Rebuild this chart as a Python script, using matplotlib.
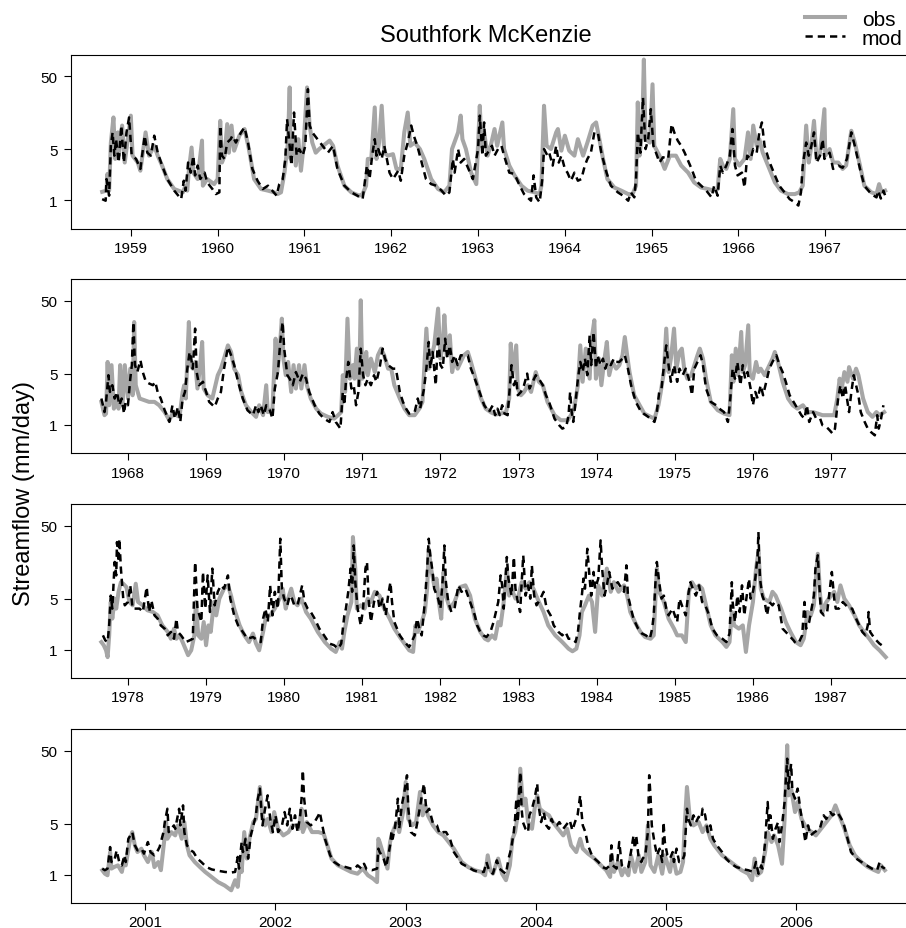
import matplotlib
matplotlib.use('Agg')
import matplotlib.pyplot as plt
from matplotlib.ticker import FixedLocator, NullLocator, FixedFormatter
from matplotlib.lines import Line2D

plt.rcParams['font.family'] = ['Liberation Sans', 'DejaVu Sans']

# periods shown in each panel, decimal years (Sep 1 to Aug 31)
periods = [(1958.667, 1967.667), (1967.667, 1977.667),
           (1977.667, 1987.667), (2000.667, 2006.667)]

# streamflow (mm/day) as (decimal year, value)
obs_1959_1967 = [
    (1958.67, 1.31), (1958.72, 1.36), (1958.73, 2.3), (1958.75, 1.36), (1958.77, 6.2), (1958.80, 13.7),
    (1958.82, 3.7), (1958.85, 8.55), (1958.86, 4.1), (1958.90, 10.6), (1958.93, 3.3), (1959.00, 14.5),
    (1959.02, 4.1), (1959.08, 3.3), (1959.11, 2.55), (1959.17, 8.55), (1959.21, 4.1), (1959.27, 5.6),
    (1959.31, 4.1), (1959.36, 3.0), (1959.42, 1.96), (1959.50, 1.43), (1959.60, 1.29), (1959.63, 1.59),
    (1959.65, 1.36), (1959.67, 2.7), (1959.70, 5.3), (1959.72, 2.4), (1959.77, 1.96), (1959.82, 6.6),
    (1959.83, 1.59), (1959.88, 1.96), (1959.96, 1.67), (1960.00, 1.96), (1960.03, 12.3), (1960.05, 3.3),
    (1960.08, 4.1), (1960.11, 11.1), (1960.13, 4.5), (1960.16, 10.6), (1960.19, 4.8), (1960.25, 7.7),
    (1960.31, 9.5), (1960.36, 5.05), (1960.42, 1.96), (1960.50, 1.43), (1960.58, 1.36), (1960.65, 1.29),
    (1960.69, 1.22), (1960.73, 1.29), (1960.77, 2.4), (1960.81, 6.2), (1960.83, 35.3), (1960.84, 3.7),
    (1960.88, 6.9), (1960.90, 3.0), (1960.93, 6.9), (1960.96, 2.55), (1960.99, 5.6), (1961.03, 35.3),
    (1961.06, 10.6), (1961.09, 6.2), (1961.13, 4.5), (1961.17, 5.05), (1961.29, 6.6), (1961.33, 5.6),
    (1961.38, 3.0), (1961.46, 1.59), (1961.54, 1.29), (1961.63, 1.16), (1961.67, 1.22), (1961.71, 1.59),
    (1961.73, 3.7), (1961.77, 3.7), (1961.81, 18.8), (1961.83, 3.7), (1961.86, 6.2), (1961.89, 19.8),
    (1961.92, 4.5), (1961.96, 4.1), (1962.02, 4.3), (1962.06, 2.7), (1962.11, 2.7), (1962.15, 8.55),
    (1962.19, 16.0), (1962.22, 5.6), (1962.27, 6.2), (1962.33, 5.05), (1962.38, 3.7), (1962.46, 1.96),
    (1962.54, 1.43), (1962.61, 1.29), (1962.67, 1.59), (1962.70, 5.05), (1962.77, 8.55), (1962.80, 14.5),
    (1962.82, 6.9), (1962.86, 5.05), (1962.92, 2.4), (1962.98, 1.67), (1963.02, 19.8), (1963.04, 5.6),
    (1963.07, 8.55), (1963.11, 4.1), (1963.15, 5.9), (1963.19, 9.5), (1963.22, 5.6), (1963.28, 11.7),
    (1963.30, 5.05), (1963.36, 3.0), (1963.42, 2.2), (1963.50, 1.59), (1963.57, 1.36), (1963.65, 1.29),
    (1963.71, 1.22), (1963.73, 1.59), (1963.76, 19.8), (1963.79, 5.6), (1963.84, 5.05), (1963.90, 8.55),
    (1963.92, 9.5), (1963.96, 4.8), (1964.00, 7.7), (1964.05, 4.8), (1964.11, 4.1), (1964.15, 6.9),
    (1964.21, 4.1), (1964.26, 6.2), (1964.32, 10.6), (1964.36, 11.7), (1964.39, 7.7), (1964.44, 3.7),
    (1964.49, 1.96), (1964.57, 1.5), (1964.65, 1.36), (1964.73, 1.22), (1964.78, 1.22), (1964.82, 1.59),
    (1964.84, 22.0), (1964.86, 4.1), (1964.89, 8.55), (1964.91, 85.0), (1964.93, 6.9), (1964.98, 6.2),
    (1965.01, 39.0), (1965.03, 5.6), (1965.09, 4.1), (1965.15, 2.7), (1965.21, 4.1), (1965.28, 4.1),
    (1965.34, 3.0), (1965.42, 2.4), (1965.49, 1.76), (1965.57, 1.5), (1965.65, 1.43), (1965.72, 1.36),
    (1965.76, 1.43), (1965.79, 3.7), (1965.82, 3.0), (1965.86, 2.7), (1965.90, 3.7), (1965.94, 17.8),
    (1965.96, 3.7), (1966.01, 3.0), (1966.07, 3.7), (1966.11, 8.55), (1966.14, 3.7), (1966.17, 10.6),
    (1966.21, 5.6), (1966.24, 6.9), (1966.28, 4.5), (1966.34, 3.0), (1966.42, 1.76), (1966.49, 1.36),
    (1966.57, 1.22), (1966.65, 1.22), (1966.70, 1.29), (1966.74, 1.59), (1966.78, 10.6), (1966.81, 3.3),
    (1966.84, 5.6), (1966.87, 12.3), (1966.90, 3.7), (1966.94, 4.5), (1966.99, 17.8), (1967.00, 4.1),
    (1967.05, 5.05), (1967.09, 3.3), (1967.15, 3.3), (1967.20, 2.7), (1967.24, 3.0), (1967.30, 9.0),
    (1967.34, 6.2), (1967.40, 3.0), (1967.45, 1.59), (1967.53, 1.29), (1967.59, 1.22), (1967.62, 1.67),
    (1967.65, 1.29), (1967.69, 1.36)]

mod_1959_1967 = [
    (1958.67, 1.04), (1958.71, 0.99), (1958.72, 1.96), (1958.75, 1.16), (1958.77, 5.6), (1958.79, 8.55),
    (1958.81, 4.1), (1958.83, 6.9), (1958.86, 3.3), (1958.89, 10.6), (1958.92, 3.3), (1958.95, 8.55),
    (1958.98, 13.7), (1959.01, 4.1), (1959.06, 3.7), (1959.11, 2.7), (1959.16, 7.7), (1959.19, 4.5),
    (1959.23, 4.1), (1959.27, 7.7), (1959.31, 4.5), (1959.36, 3.0), (1959.42, 1.96), (1959.50, 1.36),
    (1959.58, 1.04), (1959.61, 1.86), (1959.63, 1.36), (1959.66, 3.3), (1959.69, 2.4), (1959.72, 4.1),
    (1959.74, 2.2), (1959.77, 3.0), (1959.80, 1.96), (1959.85, 2.4), (1959.88, 1.76), (1959.94, 1.43),
    (1959.98, 1.22), (1960.02, 1.29), (1960.03, 10.6), (1960.05, 4.1), (1960.08, 3.7), (1960.11, 6.2),
    (1960.15, 6.9), (1960.17, 7.7), (1960.21, 6.2), (1960.27, 8.55), (1960.31, 10.0), (1960.35, 6.2),
    (1960.40, 2.7), (1960.46, 1.86), (1960.52, 1.43), (1960.58, 1.59), (1960.63, 1.36), (1960.68, 1.16),
    (1960.71, 1.67), (1960.75, 1.96), (1960.78, 3.7), (1960.80, 13.0), (1960.83, 5.6), (1960.85, 3.0),
    (1960.88, 16.0), (1960.91, 4.1), (1960.94, 5.05), (1960.98, 4.1), (1961.01, 5.6), (1961.04, 33.4),
    (1961.06, 10.6), (1961.09, 8.55), (1961.15, 6.9), (1961.21, 5.6), (1961.27, 4.5), (1961.33, 5.6),
    (1961.38, 2.7), (1961.46, 1.59), (1961.54, 1.29), (1961.61, 1.16), (1961.67, 1.04), (1961.69, 1.59),
    (1961.72, 3.0), (1961.75, 1.96), (1961.78, 4.1), (1961.81, 6.9), (1961.83, 4.1), (1961.85, 5.05),
    (1961.89, 3.7), (1961.92, 5.6), (1961.98, 2.4), (1962.02, 1.96), (1962.08, 2.55), (1962.11, 1.86),
    (1962.15, 4.1), (1962.19, 6.2), (1962.23, 10.6), (1962.26, 7.7), (1962.30, 5.6), (1962.34, 3.7),
    (1962.40, 1.96), (1962.46, 1.67), (1962.52, 1.59), (1962.58, 1.36), (1962.63, 1.16), (1962.67, 1.29),
    (1962.71, 3.7), (1962.73, 2.4), (1962.77, 5.05), (1962.80, 3.3), (1962.84, 3.7), (1962.89, 2.7),
    (1962.94, 1.96), (1963.00, 5.05), (1963.02, 14.5), (1963.05, 4.1), (1963.07, 11.7), (1963.09, 4.1),
    (1963.16, 5.6), (1963.19, 4.1), (1963.23, 5.05), (1963.27, 5.6), (1963.30, 4.1), (1963.36, 2.4),
    (1963.42, 2.3), (1963.48, 1.59), (1963.53, 1.22), (1963.61, 0.99), (1963.64, 2.2), (1963.67, 1.1),
    (1963.71, 0.94), (1963.74, 1.96), (1963.76, 5.05), (1963.80, 4.1), (1963.82, 4.5), (1963.86, 3.0),
    (1963.90, 5.6), (1963.93, 3.3), (1963.96, 4.1), (1964.00, 2.7), (1964.03, 2.4), (1964.07, 1.86),
    (1964.11, 2.4), (1964.15, 1.86), (1964.19, 1.96), (1964.23, 3.0), (1964.26, 3.7), (1964.30, 4.5),
    (1964.34, 8.55), (1964.38, 8.55), (1964.42, 4.5), (1964.48, 2.4), (1964.53, 1.59), (1964.61, 1.29),
    (1964.67, 1.16), (1964.73, 0.99), (1964.76, 1.29), (1964.80, 1.1), (1964.82, 1.96), (1964.84, 8.55),
    (1964.87, 4.5), (1964.90, 25.7), (1964.93, 5.05), (1964.96, 6.9), (1964.99, 17.8), (1965.02, 5.6),
    (1965.05, 4.5), (1965.09, 3.3), (1965.13, 3.9), (1965.19, 3.7), (1965.23, 11.1), (1965.26, 8.55),
    (1965.30, 6.6), (1965.34, 5.6), (1965.38, 4.5), (1965.42, 3.5), (1965.46, 2.7), (1965.51, 1.86),
    (1965.57, 1.59), (1965.63, 1.36), (1965.69, 1.1), (1965.72, 1.59), (1965.76, 1.16), (1965.79, 3.0),
    (1965.82, 2.4), (1965.86, 3.0), (1965.90, 4.1), (1965.93, 9.5), (1965.96, 3.0), (1965.99, 2.2),
    (1966.04, 2.4), (1966.07, 1.5), (1966.10, 4.1), (1966.14, 3.7), (1966.17, 5.05), (1966.21, 4.5),
    (1966.24, 8.55), (1966.27, 11.7), (1966.30, 5.6), (1966.36, 3.3), (1966.42, 2.2), (1966.47, 1.59),
    (1966.53, 1.29), (1966.59, 1.04), (1966.65, 0.94), (1966.69, 0.85), (1966.72, 1.29), (1966.74, 3.0),
    (1966.78, 6.2), (1966.81, 4.1), (1966.84, 5.6), (1966.87, 8.55), (1966.90, 3.3), (1966.94, 4.1),
    (1966.97, 6.9), (1966.99, 3.7), (1967.05, 4.5), (1967.09, 2.7), (1967.15, 3.0), (1967.20, 2.8),
    (1967.25, 3.7), (1967.30, 8.55), (1967.34, 5.6), (1967.40, 2.7), (1967.45, 1.59), (1967.53, 1.22),
    (1967.59, 1.1), (1967.61, 1.36), (1967.64, 1.06), (1967.67, 1.36), (1967.69, 1.16)]

obs_1968_1977 = [
    (1967.66, 2.07), (1967.70, 1.36), (1967.72, 1.43), (1967.74, 7.3), (1967.76, 1.86), (1967.79, 6.6),
    (1967.82, 1.67), (1967.85, 2.3), (1967.88, 1.67), (1967.90, 6.6), (1967.93, 1.86), (1967.96, 6.6),
    (1968.00, 2.3), (1968.03, 5.9), (1968.06, 2.55), (1968.08, 25.7), (1968.10, 3.5), (1968.15, 2.3),
    (1968.21, 2.18), (1968.27, 2.07), (1968.34, 2.07), (1968.40, 1.86), (1968.47, 1.5), (1968.53, 1.16),
    (1968.57, 1.43), (1968.62, 1.36), (1968.66, 1.29), (1968.70, 2.83), (1968.72, 3.5), (1968.74, 2.3),
    (1968.78, 25.7), (1968.80, 6.6), (1968.83, 5.9), (1968.86, 7.3), (1968.89, 3.15), (1968.92, 5.9),
    (1968.95, 13.7), (1968.97, 3.15), (1969.02, 2.55), (1969.08, 2.3), (1969.15, 4.8), (1969.19, 5.9),
    (1969.23, 8.1), (1969.28, 12.3), (1969.32, 10.0), (1969.36, 5.9), (1969.41, 4.8), (1969.45, 2.83),
    (1969.51, 1.86), (1969.58, 1.5), (1969.64, 1.29), (1969.68, 1.86), (1969.73, 1.36), (1969.77, 3.5),
    (1969.79, 1.5), (1969.85, 1.67), (1969.89, 15.2), (1969.91, 5.3), (1969.94, 10.0), (1969.97, 28.6),
    (1969.99, 8.1), (1970.02, 4.8), (1970.05, 7.3), (1970.09, 2.83), (1970.12, 6.6), (1970.15, 3.15),
    (1970.19, 6.6), (1970.22, 3.15), (1970.26, 6.6), (1970.29, 3.5), (1970.34, 2.3), (1970.41, 1.67),
    (1970.47, 1.43), (1970.56, 1.29), (1970.64, 1.22), (1970.69, 1.36), (1970.73, 1.5), (1970.75, 4.8),
    (1970.78, 2.83), (1970.81, 28.6), (1970.84, 4.3), (1970.88, 6.6), (1970.90, 4.3), (1970.93, 11.1),
    (1970.96, 3.5), (1970.98, 51.0), (1971.00, 4.3), (1971.03, 5.9), (1971.05, 10.0), (1971.07, 4.8),
    (1971.11, 8.1), (1971.16, 5.3), (1971.20, 9.0), (1971.24, 11.1), (1971.28, 9.0), (1971.33, 5.9),
    (1971.37, 5.9), (1971.41, 3.5), (1971.48, 2.3), (1971.54, 1.67), (1971.60, 1.36), (1971.67, 1.36),
    (1971.73, 1.67), (1971.77, 2.07), (1971.82, 20.9), (1971.85, 5.9), (1971.88, 8.1), (1971.92, 12.3),
    (1971.97, 39.3), (1972.00, 8.1), (1972.03, 12.3), (1972.05, 31.8), (1972.08, 9.0), (1972.12, 16.9),
    (1972.15, 5.3), (1972.18, 8.1), (1972.22, 5.9), (1972.26, 7.3), (1972.30, 9.0), (1972.35, 10.0),
    (1972.39, 7.3), (1972.45, 4.3), (1972.52, 2.3), (1972.58, 1.67), (1972.65, 1.48), (1972.71, 1.39),
    (1972.77, 1.43), (1972.84, 1.5), (1972.88, 2.3), (1972.90, 13.0), (1972.92, 4.8), (1972.97, 12.3),
    (1972.99, 3.15), (1973.03, 2.55), (1973.07, 2.83), (1973.12, 3.5), (1973.16, 2.83), (1973.22, 5.3),
    (1973.26, 3.9), (1973.31, 3.5), (1973.37, 2.07), (1973.46, 1.36), (1973.54, 1.16), (1973.63, 1.16),
    (1973.67, 1.36), (1973.71, 1.67), (1973.76, 3.5), (1973.79, 12.3), (1973.82, 3.9), (1973.86, 11.1),
    (1973.91, 4.3), (1973.93, 13.7), (1973.97, 27.2), (1973.99, 4.3), (1974.03, 8.1), (1974.06, 3.5),
    (1974.10, 8.1), (1974.13, 13.7), (1974.16, 4.8), (1974.20, 7.3), (1974.25, 5.9), (1974.29, 6.6),
    (1974.33, 9.0), (1974.36, 16.0), (1974.39, 9.0), (1974.42, 5.3), (1974.48, 2.55), (1974.55, 1.86),
    (1974.61, 1.43), (1974.69, 1.29), (1974.74, 1.22), (1974.79, 1.86), (1974.82, 2.83), (1974.86, 5.3),
    (1974.89, 20.9), (1974.92, 5.3), (1974.95, 8.1), (1974.99, 20.9), (1975.02, 5.9), (1975.06, 10.0),
    (1975.09, 11.1), (1975.12, 5.9), (1975.16, 4.3), (1975.21, 4.8), (1975.25, 6.6), (1975.29, 9.0),
    (1975.32, 11.1), (1975.36, 8.1), (1975.40, 4.3), (1975.46, 2.07), (1975.55, 1.59), (1975.63, 1.43),
    (1975.70, 1.36), (1975.73, 9.0), (1975.75, 3.9), (1975.78, 11.1), (1975.81, 4.8), (1975.85, 18.8),
    (1975.87, 5.3), (1975.90, 6.6), (1975.94, 23.2), (1975.96, 4.8), (1976.00, 4.3), (1976.04, 7.3),
    (1976.07, 5.3), (1976.10, 5.9), (1976.15, 4.8), (1976.21, 6.6), (1976.25, 8.1), (1976.28, 10.0),
    (1976.32, 7.3), (1976.38, 3.9), (1976.45, 2.3), (1976.51, 1.86), (1976.57, 1.67), (1976.64, 1.86),
    (1976.70, 1.5), (1976.77, 1.5), (1976.83, 1.43), (1976.89, 1.36), (1976.98, 1.36), (1977.04, 1.36),
    (1977.08, 2.3), (1977.11, 4.3), (1977.13, 2.83), (1977.17, 5.3), (1977.21, 3.9), (1977.23, 6.2),
    (1977.28, 4.3), (1977.32, 5.9), (1977.35, 4.8), (1977.41, 2.3), (1977.47, 1.5), (1977.53, 1.29),
    (1977.58, 1.5), (1977.62, 1.36), (1977.68, 1.5)]

mod_1968_1977 = [
    (1967.66, 2.3), (1967.70, 1.5), (1967.72, 2.07), (1967.75, 4.8), (1967.77, 2.83), (1967.80, 3.5),
    (1967.83, 2.3), (1967.86, 2.83), (1967.89, 1.86), (1967.92, 2.3), (1967.95, 1.43), (1967.97, 2.07),
    (1968.00, 1.86), (1968.03, 4.3), (1968.05, 6.6), (1968.07, 25.7), (1968.09, 6.6), (1968.12, 5.3),
    (1968.16, 7.7), (1968.19, 5.3), (1968.23, 3.9), (1968.27, 3.7), (1968.32, 3.5), (1968.35, 3.9),
    (1968.38, 2.83), (1968.42, 2.3), (1968.47, 1.59), (1968.53, 1.1), (1968.57, 1.86), (1968.60, 1.22),
    (1968.64, 1.76), (1968.67, 1.1), (1968.70, 2.3), (1968.73, 2.83), (1968.76, 5.9), (1968.79, 10.0),
    (1968.81, 8.1), (1968.83, 5.9), (1968.86, 20.9), (1968.88, 5.3), (1968.91, 3.5), (1968.96, 3.9),
    (1969.00, 2.83), (1969.04, 2.07), (1969.11, 1.76), (1969.15, 2.3), (1969.19, 2.83), (1969.23, 5.9),
    (1969.28, 11.7), (1969.32, 9.0), (1969.36, 6.6), (1969.41, 3.9), (1969.47, 2.3), (1969.53, 1.59),
    (1969.60, 1.36), (1969.64, 1.86), (1969.67, 1.5), (1969.70, 1.86), (1969.74, 1.36), (1969.77, 1.86),
    (1969.81, 1.67), (1969.85, 1.22), (1969.88, 3.15), (1969.92, 5.3), (1969.95, 13.7), (1969.98, 25.7),
    (1970.00, 11.1), (1970.04, 4.8), (1970.07, 4.3), (1970.11, 3.5), (1970.15, 5.3), (1970.20, 3.9),
    (1970.24, 5.05), (1970.28, 4.3), (1970.32, 2.83), (1970.39, 1.86), (1970.45, 1.43), (1970.51, 1.22),
    (1970.58, 1.1), (1970.62, 1.5), (1970.66, 1.1), (1970.69, 0.99), (1970.72, 0.89), (1970.75, 2.83),
    (1970.77, 1.86), (1970.79, 3.9), (1970.82, 7.3), (1970.86, 3.15), (1970.89, 3.5), (1970.92, 1.86),
    (1970.95, 2.83), (1970.98, 11.1), (1971.01, 4.8), (1971.04, 3.5), (1971.07, 4.3), (1971.11, 3.5),
    (1971.15, 4.8), (1971.18, 3.9), (1971.22, 5.9), (1971.26, 11.1), (1971.29, 8.1), (1971.33, 6.6),
    (1971.39, 5.9), (1971.43, 5.9), (1971.48, 2.83), (1971.52, 2.07), (1971.56, 1.67), (1971.60, 1.43),
    (1971.67, 1.5), (1971.71, 2.3), (1971.74, 1.67), (1971.79, 3.15), (1971.82, 5.9), (1971.85, 13.7),
    (1971.87, 5.9), (1971.90, 10.0), (1971.94, 3.5), (1971.97, 16.9), (1972.00, 6.6), (1972.03, 5.9),
    (1972.06, 15.2), (1972.09, 8.1), (1972.12, 12.3), (1972.15, 7.3), (1972.18, 9.0), (1972.22, 6.6),
    (1972.26, 9.0), (1972.30, 9.0), (1972.35, 9.0), (1972.39, 5.9), (1972.44, 4.3), (1972.50, 2.83),
    (1972.56, 1.86), (1972.62, 1.5), (1972.67, 1.86), (1972.70, 1.36), (1972.73, 1.67), (1972.76, 1.36),
    (1972.79, 1.86), (1972.82, 1.43), (1972.86, 1.36), (1972.89, 3.5), (1972.91, 6.6), (1972.94, 3.5),
    (1972.97, 4.3), (1972.99, 2.55), (1973.03, 2.83), (1973.07, 3.5), (1973.11, 5.05), (1973.14, 3.15),
    (1973.18, 3.9), (1973.22, 4.8), (1973.26, 4.3), (1973.31, 3.5), (1973.35, 2.55), (1973.39, 2.07),
    (1973.46, 1.22), (1973.52, 0.99), (1973.56, 0.89), (1973.61, 0.94), (1973.64, 1.36), (1973.66, 2.83),
    (1973.68, 1.5), (1973.70, 1.1), (1973.73, 2.07), (1973.76, 4.3), (1973.79, 7.3), (1973.82, 5.3),
    (1973.85, 8.1), (1973.88, 4.8), (1973.91, 16.9), (1973.93, 6.6), (1973.96, 18.8), (1973.99, 5.9),
    (1974.01, 9.0), (1974.05, 6.6), (1974.08, 8.1), (1974.11, 5.9), (1974.14, 7.3), (1974.18, 6.6),
    (1974.22, 8.1), (1974.25, 7.3), (1974.29, 7.3), (1974.33, 8.1), (1974.36, 9.0), (1974.40, 5.9),
    (1974.44, 3.5), (1974.50, 2.07), (1974.57, 1.5), (1974.63, 1.36), (1974.69, 1.22), (1974.74, 1.1),
    (1974.77, 1.5), (1974.80, 2.83), (1974.83, 3.15), (1974.87, 8.1), (1974.89, 12.3), (1974.92, 6.6),
    (1974.95, 3.9), (1974.99, 6.6), (1975.03, 3.9), (1975.06, 5.9), (1975.10, 4.8), (1975.14, 5.9),
    (1975.19, 3.9), (1975.22, 2.55), (1975.25, 5.9), (1975.29, 7.3), (1975.33, 9.0), (1975.36, 6.6),
    (1975.40, 3.15), (1975.46, 2.07), (1975.53, 1.86), (1975.57, 1.67), (1975.63, 1.5), (1975.68, 1.1),
    (1975.71, 2.3), (1975.74, 5.9), (1975.77, 4.3), (1975.80, 7.3), (1975.84, 3.5), (1975.87, 6.6),
    (1975.90, 4.3), (1975.93, 5.3), (1975.97, 3.15), (1976.00, 1.86), (1976.03, 2.83), (1976.06, 2.3),
    (1976.10, 3.5), (1976.13, 2.55), (1976.17, 3.9), (1976.21, 5.9), (1976.25, 7.3), (1976.30, 9.0),
    (1976.34, 6.6), (1976.38, 5.3), (1976.42, 3.9), (1976.47, 2.55), (1976.52, 2.07), (1976.57, 1.67),
    (1976.62, 1.36), (1976.66, 1.22), (1976.69, 1.86), (1976.72, 1.1), (1976.77, 1.5), (1976.81, 1.22),
    (1976.86, 1.22), (1976.89, 0.99), (1976.94, 0.94), (1976.98, 0.85), (1977.02, 0.76), (1977.05, 0.89),
    (1977.09, 2.3), (1977.12, 3.5), (1977.15, 2.3), (1977.18, 3.5), (1977.21, 2.07), (1977.23, 1.5),
    (1977.26, 2.83), (1977.29, 4.8), (1977.32, 3.5), (1977.35, 2.55), (1977.38, 1.5), (1977.43, 1.1),
    (1977.47, 0.89), (1977.51, 0.80), (1977.56, 0.72), (1977.59, 1.36), (1977.61, 0.89), (1977.64, 1.22),
    (1977.67, 1.86)]

obs_1978_1987 = [
    (1977.66, 1.27), (1977.69, 1.15), (1977.72, 0.98), (1977.74, 0.79), (1977.76, 1.57), (1977.78, 4.5),
    (1977.80, 2.66), (1977.83, 5.0), (1977.85, 3.65), (1977.88, 6.2), (1977.91, 8.4), (1977.94, 8.0),
    (1977.98, 7.2), (1978.02, 4.5), (1978.06, 4.05), (1978.10, 8.0), (1978.13, 4.5), (1978.19, 4.05),
    (1978.25, 3.46), (1978.32, 3.28), (1978.38, 2.95), (1978.44, 2.15), (1978.51, 1.75), (1978.55, 1.41),
    (1978.59, 1.94), (1978.62, 1.41), (1978.66, 1.57), (1978.70, 1.27), (1978.77, 0.84), (1978.81, 0.98),
    (1978.85, 1.57), (1978.87, 4.5), (1978.90, 1.57), (1978.94, 1.41), (1978.97, 2.39), (1979.00, 1.15),
    (1979.03, 2.15), (1979.06, 1.75), (1979.10, 4.5), (1979.13, 2.95), (1979.17, 5.0), (1979.23, 6.85),
    (1979.28, 7.6), (1979.32, 5.5), (1979.36, 3.65), (1979.43, 2.15), (1979.49, 1.57), (1979.55, 1.27),
    (1979.60, 1.66), (1979.64, 1.21), (1979.68, 0.98), (1979.73, 1.75), (1979.77, 2.95), (1979.82, 2.95),
    (1979.88, 3.65), (1979.92, 4.5), (1979.96, 5.5), (1979.98, 6.85), (1980.02, 3.65), (1980.05, 5.0),
    (1980.09, 6.85), (1980.13, 4.5), (1980.17, 4.05), (1980.22, 5.0), (1980.28, 3.28), (1980.34, 2.66),
    (1980.43, 1.75), (1980.52, 1.27), (1980.60, 1.03), (1980.66, 0.93), (1980.71, 1.27), (1980.74, 1.03),
    (1980.77, 1.75), (1980.81, 2.95), (1980.86, 4.5), (1980.88, 34.9), (1980.91, 12.9), (1980.93, 3.65),
    (1980.98, 4.05), (1981.03, 3.65), (1981.07, 5.0), (1981.11, 4.5), (1981.16, 6.2), (1981.22, 5.5),
    (1981.28, 3.65), (1981.35, 2.66), (1981.41, 1.94), (1981.48, 1.49), (1981.54, 1.21), (1981.60, 0.98),
    (1981.65, 0.93), (1981.68, 2.15), (1981.71, 1.75), (1981.76, 2.39), (1981.80, 3.28), (1981.83, 6.85),
    (1981.85, 24.1), (1981.88, 12.9), (1981.92, 7.6), (1981.95, 9.4), (1981.98, 4.5), (1982.01, 2.66),
    (1982.04, 11.6), (1982.07, 5.5), (1982.12, 3.65), (1982.18, 4.5), (1982.25, 7.2), (1982.32, 7.6),
    (1982.38, 5.5), (1982.44, 2.66), (1982.51, 1.75), (1982.57, 1.41), (1982.61, 1.34), (1982.66, 1.57),
    (1982.70, 1.41), (1982.74, 2.39), (1982.77, 2.15), (1982.81, 4.5), (1982.85, 12.9), (1982.88, 5.5),
    (1982.91, 6.85), (1982.96, 5.0), (1983.00, 5.5), (1983.04, 8.4), (1983.09, 6.85), (1983.14, 8.4),
    (1983.19, 6.85), (1983.26, 4.5), (1983.32, 3.28), (1983.38, 2.15), (1983.47, 1.57), (1983.56, 1.27),
    (1983.64, 1.03), (1983.69, 0.95), (1983.74, 1.03), (1983.78, 1.57), (1983.81, 3.28), (1983.85, 4.05),
    (1983.90, 5.5), (1983.94, 4.5), (1983.98, 1.75), (1984.02, 7.6), (1984.07, 5.5), (1984.13, 12.9),
    (1984.18, 6.2), (1984.22, 8.4), (1984.28, 6.2), (1984.35, 7.6), (1984.39, 5.5), (1984.43, 3.28),
    (1984.50, 2.27), (1984.56, 1.75), (1984.62, 1.49), (1984.69, 1.41), (1984.73, 1.57), (1984.77, 12.9),
    (1984.80, 6.2), (1984.86, 4.5), (1984.92, 2.66), (1984.99, 1.94), (1985.03, 1.57), (1985.09, 1.57),
    (1985.14, 1.27), (1985.18, 6.2), (1985.22, 8.4), (1985.27, 6.85), (1985.31, 7.6), (1985.35, 6.85),
    (1985.39, 4.5), (1985.46, 2.15), (1985.52, 1.57), (1985.61, 1.27), (1985.66, 1.09), (1985.70, 1.27),
    (1985.73, 3.28), (1985.76, 2.15), (1985.82, 1.94), (1985.87, 2.15), (1985.91, 0.93), (1985.95, 2.15),
    (1986.00, 4.5), (1986.04, 12.9), (1986.07, 21.7), (1986.10, 6.85), (1986.14, 5.0), (1986.21, 4.5),
    (1986.25, 6.2), (1986.29, 5.5), (1986.36, 3.65), (1986.42, 2.39), (1986.48, 1.75), (1986.55, 1.27),
    (1986.61, 1.15), (1986.65, 1.41), (1986.70, 3.28), (1986.74, 2.95), (1986.78, 4.05), (1986.83, 20.6),
    (1986.86, 5.5), (1986.89, 3.28), (1986.94, 4.5), (1987.00, 5.5), (1987.04, 6.2), (1987.08, 4.5),
    (1987.12, 7.6), (1987.17, 5.0), (1987.23, 4.05), (1987.30, 2.95), (1987.36, 2.15), (1987.42, 1.75),
    (1987.49, 1.41), (1987.55, 1.15), (1987.62, 0.98), (1987.70, 0.79)]

mod_1978_1987 = [
    (1977.68, 1.57), (1977.71, 1.34), (1977.74, 1.27), (1977.76, 2.15), (1977.78, 5.5), (1977.80, 3.65),
    (1977.83, 15.9), (1977.85, 10.4), (1977.86, 29.8), (1977.88, 15.9), (1977.89, 33.1), (1977.91, 12.9),
    (1977.94, 5.0), (1977.96, 4.05), (1978.00, 4.5), (1978.03, 7.6), (1978.06, 3.65), (1978.10, 3.65),
    (1978.15, 3.65), (1978.19, 3.28), (1978.24, 7.2), (1978.27, 3.28), (1978.30, 4.75), (1978.34, 2.95),
    (1978.38, 2.66), (1978.42, 2.15), (1978.47, 1.94), (1978.51, 1.57), (1978.55, 1.75), (1978.59, 1.41),
    (1978.62, 2.66), (1978.64, 1.75), (1978.68, 1.57), (1978.74, 1.27), (1978.79, 1.34), (1978.83, 1.41),
    (1978.85, 6.85), (1978.86, 15.9), (1978.89, 3.65), (1978.94, 2.39), (1978.96, 11.6), (1978.99, 3.65),
    (1979.02, 10.4), (1979.05, 3.28), (1979.08, 12.9), (1979.11, 4.05), (1979.15, 6.2), (1979.19, 7.6),
    (1979.23, 6.85), (1979.28, 10.4), (1979.31, 5.0), (1979.36, 2.95), (1979.41, 2.15), (1979.47, 1.75),
    (1979.53, 1.41), (1979.60, 1.49), (1979.66, 1.34), (1979.70, 1.27), (1979.73, 2.66), (1979.76, 3.65),
    (1979.79, 2.39), (1979.82, 7.6), (1979.85, 2.95), (1979.88, 6.2), (1979.92, 3.65), (1979.95, 33.1),
    (1979.97, 6.85), (1980.00, 5.0), (1980.04, 4.05), (1980.07, 5.5), (1980.10, 5.0), (1980.13, 4.05),
    (1980.17, 4.05), (1980.20, 5.5), (1980.23, 7.6), (1980.26, 4.5), (1980.30, 3.65), (1980.34, 3.28),
    (1980.39, 2.66), (1980.45, 1.94), (1980.51, 1.57), (1980.58, 1.21), (1980.64, 1.15), (1980.69, 1.03),
    (1980.73, 1.21), (1980.77, 2.95), (1980.79, 3.65), (1980.82, 6.2), (1980.85, 12.9), (1980.87, 6.2),
    (1980.89, 26.8), (1980.91, 8.4), (1980.94, 3.65), (1980.98, 2.15), (1981.01, 3.65), (1981.04, 12.9),
    (1981.06, 15.9), (1981.08, 5.0), (1981.11, 2.39), (1981.15, 4.5), (1981.19, 6.2), (1981.22, 3.65),
    (1981.26, 5.0), (1981.30, 2.95), (1981.33, 5.5), (1981.36, 8.4), (1981.38, 4.5), (1981.41, 2.39),
    (1981.48, 1.57), (1981.54, 1.27), (1981.60, 1.09), (1981.63, 1.27), (1981.67, 1.57), (1981.70, 2.66),
    (1981.73, 1.94), (1981.76, 1.57), (1981.80, 4.5), (1981.83, 12.9), (1981.85, 33.1), (1981.87, 19.6),
    (1981.90, 11.6), (1981.92, 6.85), (1981.97, 5.0), (1982.00, 3.65), (1982.03, 9.4), (1982.05, 26.8),
    (1982.07, 8.4), (1982.10, 4.5), (1982.14, 3.28), (1982.18, 3.65), (1982.23, 7.6), (1982.27, 6.2),
    (1982.32, 6.85), (1982.38, 4.5), (1982.44, 2.95), (1982.47, 2.15), (1982.51, 1.75), (1982.55, 1.57),
    (1982.59, 1.49), (1982.64, 1.75), (1982.68, 2.39), (1982.71, 3.28), (1982.74, 4.5), (1982.77, 10.4),
    (1982.79, 7.6), (1982.81, 3.65), (1982.85, 18.6), (1982.87, 9.4), (1982.91, 5.5), (1982.94, 18.6),
    (1982.96, 6.85), (1982.99, 4.5), (1983.02, 3.28), (1983.04, 8.4), (1983.06, 19.6), (1983.09, 5.5),
    (1983.12, 7.6), (1983.15, 5.0), (1983.17, 14.3), (1983.20, 5.5), (1983.23, 4.05), (1983.28, 5.0),
    (1983.32, 6.2), (1983.36, 3.65), (1983.41, 2.95), (1983.45, 2.15), (1983.51, 1.75), (1983.56, 1.57),
    (1983.60, 1.75), (1983.64, 1.41), (1983.69, 1.41), (1983.73, 1.27), (1983.76, 1.75), (1983.79, 3.65),
    (1983.81, 5.5), (1983.83, 9.4), (1983.85, 6.85), (1983.88, 24.1), (1983.91, 9.4), (1983.93, 5.5),
    (1983.96, 11.6), (1983.98, 6.85), (1984.02, 9.4), (1984.05, 31.4), (1984.07, 12.9), (1984.10, 5.5),
    (1984.13, 7.6), (1984.16, 11.6), (1984.20, 6.85), (1984.23, 7.6), (1984.27, 8.4), (1984.32, 6.85),
    (1984.35, 6.2), (1984.38, 14.3), (1984.40, 5.5), (1984.43, 4.05), (1984.47, 2.66), (1984.53, 1.94),
    (1984.58, 1.66), (1984.63, 1.57), (1984.68, 1.41), (1984.71, 1.94), (1984.73, 2.95), (1984.75, 7.6),
    (1984.77, 15.9), (1984.80, 8.4), (1984.83, 5.0), (1984.86, 5.5), (1984.89, 3.65), (1984.92, 2.95),
    (1984.97, 3.65), (1985.00, 2.95), (1985.03, 2.39), (1985.06, 5.0), (1985.09, 4.05), (1985.14, 2.95),
    (1985.17, 5.5), (1985.20, 8.4), (1985.23, 6.85), (1985.27, 5.5), (1985.31, 7.6), (1985.35, 4.5),
    (1985.39, 4.05), (1985.44, 2.95), (1985.48, 1.94), (1985.54, 1.57), (1985.61, 1.41), (1985.66, 1.27),
    (1985.70, 1.66), (1985.73, 8.4), (1985.74, 4.5), (1985.77, 2.39), (1985.80, 5.5), (1985.83, 3.28),
    (1985.86, 7.6), (1985.89, 2.95), (1985.91, 4.5), (1985.95, 9.4), (1985.97, 5.0), (1986.00, 6.2),
    (1986.03, 9.4), (1986.06, 19.6), (1986.07, 40.9), (1986.09, 9.4), (1986.12, 5.5), (1986.15, 4.5),
    (1986.18, 2.95), (1986.21, 4.5), (1986.25, 4.05), (1986.28, 4.5), (1986.33, 4.05), (1986.38, 1.94),
    (1986.42, 1.75), (1986.46, 1.57), (1986.52, 1.34), (1986.55, 1.21), (1986.59, 1.27), (1986.63, 1.57),
    (1986.66, 4.5), (1986.68, 1.94), (1986.72, 2.39), (1986.75, 3.65), (1986.78, 5.5), (1986.80, 12.9),
    (1986.83, 19.6), (1986.85, 7.6), (1986.87, 3.28), (1986.91, 2.95), (1986.95, 3.28), (1986.98, 6.2),
    (1987.01, 11.6), (1987.04, 5.0), (1987.06, 3.65), (1987.10, 3.65), (1987.15, 4.5), (1987.19, 4.05),
    (1987.23, 3.65), (1987.27, 3.65), (1987.32, 2.66), (1987.36, 2.15), (1987.40, 1.75), (1987.44, 1.57),
    (1987.47, 2.15), (1987.48, 3.28), (1987.50, 1.75), (1987.53, 1.57), (1987.56, 1.41), (1987.62, 1.21),
    (1987.68, 1.09)]

obs_2001_2006 = [
    (2000.67, 1.15), (2000.69, 1.03), (2000.71, 0.98), (2000.73, 2.04), (2000.74, 1.21), (2000.76, 1.27),
    (2000.79, 1.34), (2000.82, 1.09), (2000.84, 1.66), (2000.85, 1.34), (2000.88, 2.8), (2000.90, 3.83),
    (2000.92, 2.52), (2000.94, 2.04), (2000.97, 2.27), (2000.99, 1.84), (2001.02, 1.49), (2001.05, 2.04),
    (2001.07, 1.27), (2001.10, 1.49), (2001.12, 1.15), (2001.15, 3.45), (2001.16, 5.25), (2001.17, 3.1),
    (2001.20, 3.83), (2001.23, 3.45), (2001.25, 4.73), (2001.28, 3.1), (2001.30, 5.25), (2001.32, 2.52),
    (2001.34, 1.84), (2001.38, 1.49), (2001.42, 1.27), (2001.46, 1.09), (2001.51, 0.93), (2001.56, 0.79),
    (2001.61, 0.71), (2001.66, 0.61), (2001.69, 0.84), (2001.71, 0.68), (2001.73, 1.49), (2001.74, 1.09),
    (2001.76, 3.83), (2001.78, 1.66), (2001.80, 3.1), (2001.83, 5.25), (2001.85, 5.8), (2001.88, 15.9),
    (2001.90, 6.5), (2001.92, 4.73), (2001.94, 5.8), (2001.97, 3.83), (2001.99, 7.2), (2002.02, 4.25),
    (2002.06, 3.45), (2002.10, 3.83), (2002.13, 4.73), (2002.16, 4.73), (2002.18, 4.25), (2002.20, 8.0),
    (2002.21, 3.83), (2002.24, 5.25), (2002.28, 3.83), (2002.33, 3.83), (2002.37, 3.64), (2002.39, 2.8),
    (2002.43, 1.66), (2002.48, 1.34), (2002.53, 1.21), (2002.58, 1.09), (2002.63, 1.03), (2002.67, 1.21),
    (2002.71, 0.98), (2002.75, 0.88), (2002.78, 0.79), (2002.79, 3.1), (2002.80, 2.8), (2002.83, 1.84),
    (2002.86, 1.21), (2002.88, 2.8), (2002.90, 3.83), (2002.93, 5.25), (2002.95, 3.83), (2002.98, 7.2),
    (2003.00, 18.6), (2003.02, 5.8), (2003.05, 4.73), (2003.08, 5.25), (2003.11, 13.6), (2003.13, 6.5),
    (2003.15, 8.9), (2003.17, 6.5), (2003.21, 4.73), (2003.25, 3.83), (2003.29, 3.45), (2003.33, 2.8),
    (2003.37, 2.27), (2003.43, 1.49), (2003.48, 1.27), (2003.53, 1.15), (2003.58, 1.09), (2003.61, 0.98),
    (2003.63, 1.84), (2003.65, 1.15), (2003.67, 1.03), (2003.71, 1.66), (2003.74, 1.03), (2003.77, 0.84),
    (2003.80, 1.34), (2003.82, 3.1), (2003.84, 3.83), (2003.86, 6.5), (2003.88, 28.3), (2003.90, 8.9),
    (2003.92, 11.0), (2003.94, 5.25), (2003.97, 4.25), (2003.99, 8.0), (2004.01, 12.2), (2004.03, 8.0),
    (2004.06, 7.2), (2004.10, 6.5), (2004.13, 5.25), (2004.17, 4.25), (2004.21, 3.45), (2004.24, 4.25),
    (2004.27, 2.52), (2004.31, 2.04), (2004.34, 3.1), (2004.36, 2.27), (2004.40, 1.94), (2004.45, 1.66),
    (2004.50, 1.34), (2004.54, 1.15), (2004.57, 0.93), (2004.58, 1.84), (2004.60, 1.09), (2004.63, 1.49),
    (2004.66, 0.98), (2004.68, 1.21), (2004.71, 0.98), (2004.73, 1.84), (2004.76, 1.09), (2004.79, 1.84),
    (2004.81, 1.09), (2004.84, 1.49), (2004.86, 4.73), (2004.88, 1.34), (2004.91, 1.09), (2004.94, 1.84),
    (2004.97, 1.03), (2004.99, 1.84), (2005.03, 1.09), (2005.05, 1.84), (2005.08, 1.03), (2005.11, 1.09),
    (2005.13, 1.49), (2005.14, 3.83), (2005.16, 15.9), (2005.18, 6.5), (2005.21, 4.73), (2005.25, 5.25),
    (2005.28, 3.83), (2005.31, 4.73), (2005.34, 3.1), (2005.37, 2.52), (2005.43, 1.84), (2005.48, 1.57),
    (2005.53, 1.34), (2005.58, 1.15), (2005.63, 1.03), (2005.66, 0.84), (2005.68, 1.66), (2005.70, 0.98),
    (2005.73, 1.09), (2005.76, 2.04), (2005.78, 3.83), (2005.81, 2.8), (2005.83, 3.45), (2005.86, 2.52),
    (2005.89, 1.41), (2005.91, 5.8), (2005.93, 59.3), (2005.94, 12.2), (2005.96, 15.1), (2005.99, 7.2),
    (2006.01, 9.9), (2006.04, 5.8), (2006.08, 4.25), (2006.12, 3.83), (2006.15, 3.45), (2006.19, 4.25),
    (2006.23, 5.25), (2006.27, 6.5), (2006.30, 8.9), (2006.33, 6.5), (2006.37, 4.25), (2006.41, 2.52),
    (2006.45, 1.84), (2006.50, 1.49), (2006.55, 1.27), (2006.60, 1.15), (2006.63, 1.09), (2006.65, 1.34),
    (2006.68, 1.15)]

mod_2001_2006 = [
    (2000.67, 1.21), (2000.69, 1.15), (2000.71, 1.21), (2000.73, 2.39), (2000.74, 1.49), (2000.76, 1.49),
    (2000.78, 2.15), (2000.80, 1.49), (2000.82, 1.34), (2000.84, 1.84), (2000.85, 1.49), (2000.87, 3.1),
    (2000.90, 3.83), (2000.92, 2.52), (2000.94, 2.15), (2000.97, 2.27), (2000.99, 1.94), (2001.02, 2.8),
    (2001.04, 2.04), (2001.07, 1.84), (2001.09, 2.04), (2001.11, 2.39), (2001.14, 3.83), (2001.15, 5.25),
    (2001.17, 8.0), (2001.18, 3.83), (2001.22, 4.73), (2001.23, 4.25), (2001.25, 6.5), (2001.26, 8.0),
    (2001.27, 4.73), (2001.29, 8.9), (2001.30, 3.83), (2001.32, 2.52), (2001.35, 2.15), (2001.37, 2.04),
    (2001.40, 1.66), (2001.43, 1.49), (2001.47, 1.27), (2001.51, 1.18), (2001.56, 1.13), (2001.61, 1.09),
    (2001.66, 1.07), (2001.69, 1.09), (2001.71, 1.75), (2001.72, 1.21), (2001.74, 2.8), (2001.75, 2.04),
    (2001.77, 3.1), (2001.79, 1.66), (2001.81, 3.45), (2001.83, 4.73), (2001.85, 6.5), (2001.86, 9.9),
    (2001.88, 15.1), (2001.90, 4.73), (2001.92, 8.0), (2001.94, 12.2), (2001.96, 5.8), (2001.98, 3.83),
    (2002.00, 6.5), (2002.02, 3.83), (2002.05, 4.73), (2002.07, 7.2), (2002.09, 4.73), (2002.11, 8.0),
    (2002.13, 4.25), (2002.15, 6.5), (2002.17, 3.83), (2002.19, 6.5), (2002.20, 11.0), (2002.21, 27.0),
    (2002.22, 11.0), (2002.24, 5.25), (2002.27, 4.73), (2002.30, 5.25), (2002.33, 6.5), (2002.34, 7.2),
    (2002.36, 4.73), (2002.38, 3.1), (2002.42, 1.84), (2002.45, 1.49), (2002.49, 1.34), (2002.54, 1.27),
    (2002.58, 1.21), (2002.61, 1.21), (2002.63, 1.34), (2002.66, 1.21), (2002.68, 1.41), (2002.70, 1.18),
    (2002.74, 1.15), (2002.78, 1.21), (2002.79, 2.27), (2002.80, 2.04), (2002.83, 1.66), (2002.85, 1.27),
    (2002.88, 2.52), (2002.89, 3.83), (2002.90, 3.1), (2002.92, 4.73), (2002.94, 11.0), (2002.95, 4.25),
    (2002.97, 8.9), (2002.99, 13.6), (2003.01, 23.0), (2003.02, 8.0), (2003.04, 3.83), (2003.07, 3.45),
    (2003.09, 5.25), (2003.12, 11.0), (2003.14, 17.7), (2003.16, 7.2), (2003.18, 8.0), (2003.21, 5.0),
    (2003.24, 4.73), (2003.26, 3.64), (2003.29, 3.83), (2003.31, 3.83), (2003.34, 3.1), (2003.37, 2.04),
    (2003.43, 1.41), (2003.48, 1.27), (2003.52, 1.15), (2003.56, 1.09), (2003.60, 1.09), (2003.62, 1.49),
    (2003.64, 1.15), (2003.67, 1.03), (2003.70, 1.57), (2003.72, 1.21), (2003.75, 1.09), (2003.77, 1.03),
    (2003.79, 1.66), (2003.81, 2.27), (2003.83, 3.83), (2003.84, 5.8), (2003.85, 11.0), (2003.86, 5.25),
    (2003.88, 25.5), (2003.89, 8.0), (2003.90, 5.25), (2003.92, 4.25), (2003.94, 3.83), (2003.95, 6.5),
    (2003.97, 8.0), (2003.99, 11.0), (2004.01, 17.7), (2004.02, 8.9), (2004.04, 5.25), (2004.06, 7.2),
    (2004.08, 4.73), (2004.10, 4.25), (2004.12, 5.8), (2004.14, 4.73), (2004.16, 4.73), (2004.18, 5.25),
    (2004.21, 4.25), (2004.24, 5.0), (2004.26, 5.55), (2004.28, 4.05), (2004.30, 5.25), (2004.32, 6.5),
    (2004.34, 12.2), (2004.35, 7.2), (2004.36, 4.73), (2004.38, 3.83), (2004.40, 2.52), (2004.43, 1.84),
    (2004.45, 1.66), (2004.48, 1.49), (2004.51, 1.27), (2004.54, 1.21), (2004.57, 1.34), (2004.58, 2.52),
    (2004.59, 1.34), (2004.62, 1.21), (2004.63, 1.84), (2004.64, 2.8), (2004.66, 1.34), (2004.68, 1.27),
    (2004.71, 1.27), (2004.73, 2.04), (2004.75, 3.45), (2004.76, 2.27), (2004.77, 3.45), (2004.79, 1.66),
    (2004.81, 1.49), (2004.82, 1.66), (2004.84, 1.84), (2004.86, 3.83), (2004.87, 23.0), (2004.88, 12.2),
    (2004.89, 4.73), (2004.91, 2.8), (2004.93, 1.84), (2004.95, 2.27), (2004.97, 1.49), (2004.98, 5.25),
    (2004.99, 2.8), (2005.01, 1.84), (2005.03, 1.66), (2005.05, 2.04), (2005.06, 1.49), (2005.08, 2.27),
    (2005.10, 1.49), (2005.12, 1.49), (2005.14, 1.84), (2005.16, 8.0), (2005.17, 5.8), (2005.19, 4.73),
    (2005.21, 6.5), (2005.23, 5.25), (2005.25, 6.2), (2005.27, 5.8), (2005.28, 8.0), (2005.30, 6.5),
    (2005.32, 3.83), (2005.34, 4.73), (2005.36, 3.1), (2005.39, 2.52), (2005.43, 2.04), (2005.46, 1.66),
    (2005.50, 1.41), (2005.54, 1.27), (2005.58, 1.21), (2005.60, 1.18), (2005.63, 1.15), (2005.67, 1.09),
    (2005.69, 1.49), (2005.71, 1.03), (2005.73, 1.34), (2005.74, 1.21), (2005.76, 2.8), (2005.78, 9.9),
    (2005.79, 4.25), (2005.80, 6.5), (2005.82, 3.1), (2005.84, 4.25), (2005.86, 5.25), (2005.87, 2.8),
    (2005.89, 4.73), (2005.91, 9.9), (2005.92, 20.7), (2005.93, 38.8), (2005.94, 15.1), (2005.96, 33.1),
    (2005.97, 13.6), (2005.99, 11.0), (2006.01, 15.1), (2006.03, 8.0), (2006.05, 4.73), (2006.07, 2.8),
    (2006.09, 4.73), (2006.11, 3.45), (2006.14, 3.83), (2006.18, 4.25), (2006.21, 6.5), (2006.23, 5.8),
    (2006.26, 7.2), (2006.28, 6.5), (2006.31, 7.2), (2006.33, 6.5), (2006.36, 5.25), (2006.38, 3.83),
    (2006.42, 2.04), (2006.46, 1.66), (2006.50, 1.49), (2006.54, 1.34), (2006.58, 1.21), (2006.62, 1.15),
    (2006.64, 1.49), (2006.66, 1.27), (2006.68, 1.21)]

panels = [(obs_1959_1967, mod_1959_1967), (obs_1968_1977, mod_1968_1977),
          (obs_1978_1987, mod_1978_1987), (obs_2001_2006, mod_2001_2006)]

GRAY = '#a6a6a6'
OBS_LW = 2.9
MOD_LW = 1.8
MOD_DASH = (2.9, 2.0)

fig = plt.figure(figsize=(9.06, 9.29), dpi=100)

tops = [0.940, 0.6983, 0.4564, 0.2142]
height = 0.1872

for top, (obs, mod), (t0, t1) in zip(tops, panels, periods):
    ax = fig.add_axes([0.078, top - height, 0.9313, height])
    ox, oy = zip(*obs)
    mx, my = zip(*mod)
    ax.plot(ox, oy, color=GRAY, lw=OBS_LW, solid_joinstyle='round')
    ax.plot(mx, my, color='black', lw=MOD_LW, dashes=MOD_DASH)

    pad = 0.04 * (t1 - t0)
    ax.set_xlim(t0 - pad, t1 + pad)
    ax.set_yscale('log')
    ax.set_ylim(0.41, 99)

    years = list(range(int(t0) + 1, int(t1) + 1))
    ax.xaxis.set_major_locator(FixedLocator(years))
    ax.xaxis.set_major_formatter(FixedFormatter([str(y) for y in years]))
    ax.xaxis.set_minor_locator(NullLocator())
    ax.yaxis.set_major_locator(FixedLocator([1, 5, 50]))
    ax.yaxis.set_major_formatter(FixedFormatter(['1', '5', '50']))
    ax.yaxis.set_minor_locator(NullLocator())

    ax.tick_params(axis='x', length=5, width=0.8, labelsize=11, pad=4)
    ax.tick_params(axis='y', length=5, width=0.8, labelsize=11, pad=4.5)
    for s in ax.spines.values():
        s.set_linewidth(0.8)

fig.text(0.536, 0.9551, 'Southfork McKenzie', ha='center', va='baseline', fontsize=17)
fig.text(0.0265, 0.469, 'Streamflow (mm/day)', rotation=90, ha='center', va='center',
         fontsize=17)

# legend, top right
fig.add_artist(Line2D([805 / 906, 845 / 906], [1 - 18.3 / 929] * 2, color=GRAY, lw=OBS_LW,
                      transform=fig.transFigure))
fig.add_artist(Line2D([805 / 906, 845 / 906], [1 - 37.3 / 929] * 2, color='black', lw=MOD_LW,
                      dashes=MOD_DASH, transform=fig.transFigure))
fig.text(862 / 906, 1 - 26 / 929, 'obs', ha='left', va='baseline', fontsize=15)
fig.text(862 / 906, 1 - 45 / 929, 'mod', ha='left', va='baseline', fontsize=15)

fig.savefig('out.png', dpi=100)
